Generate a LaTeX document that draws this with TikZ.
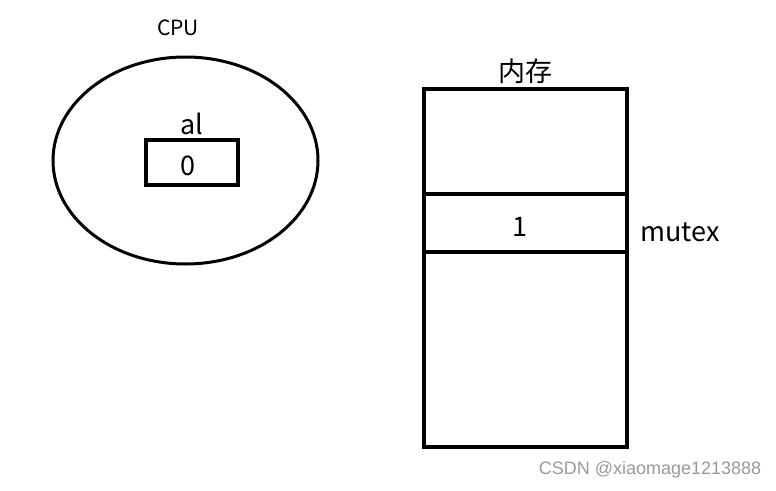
\documentclass[tikz,border=0pt]{standalone}
\usepackage{fontspec}
\setmainfont{Noto Sans CJK SC}
\newfontfamily\markfont{Liberation Sans}
\usepackage{tikz}
\usetikzlibrary{positioning,shapes.geometric}
\tikzset{
    cell/.style={rectangle, draw, line width=4pt, inner sep=0pt, outer sep=0pt, minimum width=203pt},
    reg box/.style={rectangle, draw, line width=4pt, inner sep=0pt, minimum width=92pt, minimum height=45pt},
    cpu shape/.style={ellipse, draw, line width=3pt, inner sep=0pt, minimum width=265pt, minimum height=207pt},
    big label/.style={font=\fontsize{27}{30}\selectfont},
    small label/.style={font=\fontsize{21}{24}\selectfont}
}
\begin{document}
\begin{tikzpicture}[x=1pt,y=-1pt]
\useasboundingbox (0,0) rectangle (776,490);
% CPU side
\node[cpu shape] (cpu) at (185.5,160.5) {};
\node[small label] (cpulabel) at (178,28) {CPU};
\node[reg box] (al) at (192,162.5) {};
\node[big label] (alvalue) at (188,166) {0};
\node[big label, above=0pt of al] (allabel) {al};

% memory
\node[cell, minimum height=105pt] (memtop) at (525.5,141.5) {};
\node[cell, minimum height=58pt, below=0pt of memtop] (mutexcell) {};
\node[cell, minimum height=195pt, below=0pt of mutexcell] (membottom) {};
\node[big label, xshift=-6pt, yshift=-4pt] (mutexvalue) at (mutexcell) {1};
\node[big label, above=2pt of memtop] (memlabel) {内存};
\node[big label, right=10pt of mutexcell, yshift=-9pt] (mutexlabel) {mutex};

\node[font=\markfont\fontsize{18}{20}\selectfont, text=gray!80] (mark) at (650,470) {CSDN @xiaomage1213888};
\end{tikzpicture}
\end{document}
